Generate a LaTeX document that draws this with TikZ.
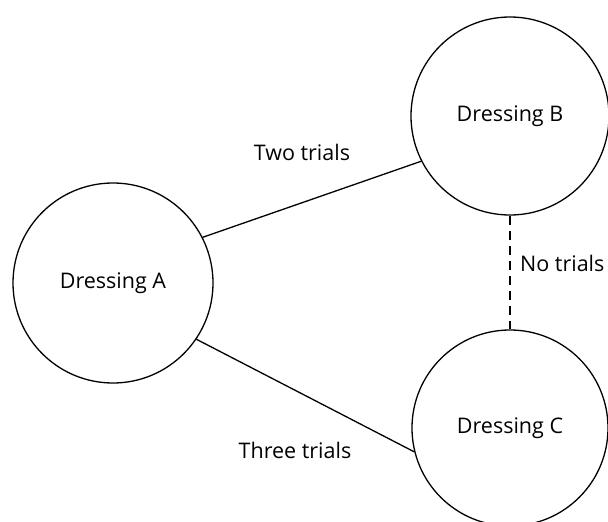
\documentclass[tikz,border=0pt]{standalone}
\usepackage{fontspec}
\setmainfont{Open Sans}
\begin{document}
\begin{tikzpicture}[x=1pt,y=1pt,
  dress/.style={circle,draw,line width=1.3pt,inner sep=0pt},
  conn/.style={line width=1.3pt},
  lbl/.style={inner sep=0pt,font=\fontsize{21.5}{24}\selectfont}]
\useasboundingbox (0,0) rectangle (608,-522);
\node[dress,minimum size=200pt] (A) at (113,-283) {};
\node[dress,minimum size=198pt] (B) at (510,-116) {};
\node[dress,minimum size=196pt] (C) at (510,-428) {};
\node[lbl] (tA) at (113,-283) {Dressing A};
\node[lbl] (tB) at (510,-116) {Dressing B};
\node[lbl] (tC) at (510,-428) {Dressing C};
\draw[conn] (A.27) -- (B.207);
\draw[conn] (A.-34) -- (C.194);
\draw[conn,dash pattern=on 9pt off 6pt] (B.south) -- (C.north);
\node[lbl] (l1) at (302,-152) {Two trials};
\node[lbl] (l2) at (295,-450) {Three trials};
\node[lbl,anchor=west] (l3) at (520,-263) {No trials};
\end{tikzpicture}
\end{document}
